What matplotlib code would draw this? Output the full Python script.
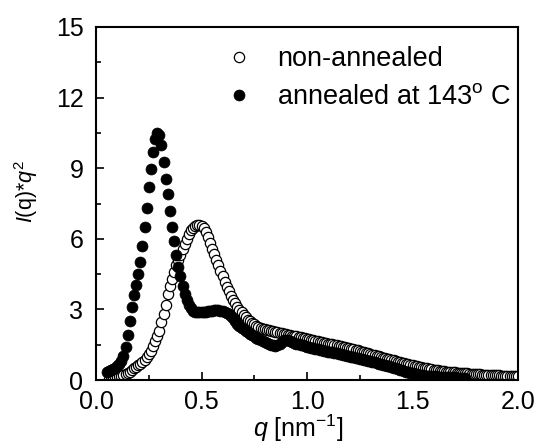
import numpy as np
import matplotlib
matplotlib.use("Agg")
import matplotlib.pyplot as plt

plt.rcParams['font.family'] = ['Liberation Sans', 'DejaVu Sans']
plt.rcParams['mathtext.fontset'] = 'custom'
plt.rcParams['mathtext.rm'] = 'Liberation Sans'
plt.rcParams['mathtext.it'] = 'Liberation Sans:italic'

# ---- data ----
q_step = 0.01
open_q0 = 0.06
open_v = [
    0.03, 0.05, 0.07, 0.09, 0.12, 0.15, 0.18, 0.20, 0.25, 0.30,          # 0.06-0.15
    0.36, 0.43, 0.50, 0.56, 0.62, 0.68, 0.75, 0.85, 0.97, 1.10,          # 0.16-0.25
    1.25, 1.45, 1.65, 1.87, 2.10, 2.45, 2.80, 3.20, 3.65, 4.00,          # 0.26-0.35
    4.30, 4.60, 4.90, 5.10, 5.30, 5.55, 5.80, 6.00, 6.20, 6.38,          # 0.36-0.45
    6.48, 6.55, 6.58, 6.58, 6.55, 6.45, 6.27, 6.06, 5.82, 5.58,          # 0.46-0.55
    5.34, 5.10, 4.87, 4.63, 4.40, 4.18, 3.97, 3.77, 3.58, 3.41,          # 0.56-0.65
    3.26, 3.12, 2.99, 2.87, 2.76, 2.66, 2.57, 2.49, 2.42, 2.36,          # 0.66-0.75
    2.30, 2.25, 2.21, 2.18, 2.15, 2.13, 2.11, 2.09, 2.07, 2.05,          # 0.76-0.85
    2.03, 2.01, 1.99, 1.97, 1.95, 1.93, 1.91, 1.89, 1.87, 1.85,          # 0.86-0.95
    1.83, 1.81, 1.79, 1.77, 1.75,                                        # 0.96-1.00
    1.73, 1.71, 1.69, 1.67, 1.65, 1.63, 1.61, 1.59, 1.57, 1.55,          # 1.01-1.10
    1.53, 1.51, 1.49, 1.47, 1.45, 1.43, 1.41, 1.39, 1.37, 1.35,          # 1.11-1.20
    1.33, 1.31, 1.29, 1.27, 1.24, 1.21, 1.19, 1.16, 1.14, 1.11,          # 1.21-1.30
    1.08, 1.06, 1.03, 1.01, 0.98, 0.95, 0.93, 0.90, 0.88, 0.85,          # 1.31-1.40
    0.83, 0.80, 0.78, 0.76, 0.73, 0.71, 0.69, 0.66, 0.64, 0.62,          # 1.41-1.50
    0.60, 0.58, 0.56, 0.54, 0.52, 0.51, 0.49, 0.47, 0.45, 0.44,          # 1.51-1.60
    0.43, 0.41, 0.40, 0.39, 0.38, 0.36, 0.35, 0.34, 0.33, 0.32,          # 1.61-1.70
    0.31, 0.30, 0.30, 0.29, 0.28, 0.28, 0.27, 0.26, 0.26, 0.25,          # 1.71-1.80
    0.25, 0.24, 0.23, 0.23, 0.22, 0.22, 0.21, 0.21, 0.21, 0.20,          # 1.81-1.90
    0.20, 0.19, 0.19, 0.19, 0.18, 0.18, 0.18, 0.17, 0.17, 0.16,          # 1.91-2.00
]

annealed_q0 = 0.05
annealed_v = [
    0.35, 0.40, 0.44, 0.48, 0.52, 0.58, 0.66, 0.80, 1.02, 1.40,          # 0.05-0.14
    1.90, 2.50, 3.10, 3.60, 4.05, 4.50, 5.00, 5.70, 6.50, 7.30,          # 0.15-0.24
    8.20, 8.95, 9.70, 10.25, 10.50, 10.40, 10.00, 9.25, 8.55, 7.90,      # 0.25-0.34
    7.20, 6.50, 5.90, 5.30, 4.80, 4.40, 4.00, 3.65, 3.40, 3.20,          # 0.35-0.44
    3.05, 2.95, 2.90, 2.88, 2.88, 2.88, 2.88, 2.90, 2.92, 2.94,          # 0.45-0.54
    2.95, 2.96, 2.97, 2.97, 2.95, 2.92, 2.88, 2.85, 2.80, 2.72,          # 0.55-0.64
    2.62, 2.50, 2.40, 2.30, 2.22, 2.15, 2.08, 2.02, 1.96, 1.90,          # 0.65-0.74
    1.85, 1.80, 1.75, 1.70, 1.66, 1.62, 1.58, 1.54, 1.50, 1.47,          # 0.75-0.84
    1.46, 1.47, 1.52, 1.60, 1.68, 1.72, 1.70, 1.66, 1.62, 1.58,          # 0.85-0.94
    1.55, 1.52, 1.49, 1.47, 1.44, 1.42, 1.40, 1.38, 1.35, 1.33,          # 0.95-1.04
    1.31, 1.29, 1.27, 1.25, 1.23, 1.21, 1.19, 1.17, 1.15, 1.13,          # 1.05-1.14
    1.11, 1.09, 1.07, 1.05, 1.03, 1.01, 0.99, 0.97, 0.95, 0.93,          # 1.15-1.24
    0.91, 0.89, 0.87, 0.84, 0.82, 0.80, 0.78, 0.75, 0.73, 0.70,          # 1.25-1.34
    0.68, 0.65, 0.63, 0.60, 0.58, 0.56, 0.53, 0.50, 0.47, 0.44,          # 1.35-1.44
    0.41, 0.38, 0.35, 0.32, 0.30, 0.28, 0.26, 0.24, 0.22, 0.21,          # 1.45-1.54
    0.20, 0.19, 0.18, 0.17, 0.16, 0.15, 0.15, 0.14, 0.14, 0.13,          # 1.55-1.64
    0.13, 0.12, 0.12, 0.12, 0.11, 0.11, 0.10, 0.10, 0.10, 0.09,          # 1.65-1.74
    0.09,                                                                # 1.75
]

labels = ['non-annealed', 'annealed at 143$^{\\rm o}$ C']
x_ticks = [0.0, 0.5, 1.0, 1.5, 2.0]
y_ticks = [0, 3, 6, 9, 12, 15]

open_q = open_q0 + q_step * np.arange(len(open_v))
annealed_q = annealed_q0 + q_step * np.arange(len(annealed_v))

fig = plt.figure(figsize=(5.37, 4.43), dpi=100)
ax = fig.add_axes([96/537, 1-380/443, (518-96)/537, (380-27)/443])

ax.plot(open_q, open_v, linestyle='none', marker='o', markersize=7.4,
        markerfacecolor='white', markeredgecolor='black', markeredgewidth=0.9,
        label=labels[0], zorder=2)
ax.plot(annealed_q, annealed_v, linestyle='none', marker='o', markersize=7.9,
        markerfacecolor='black', markeredgecolor='black', markeredgewidth=0.5,
        label=labels[1], zorder=3)

ax.set_xlim(0, 2.0)
ax.set_ylim(0, 15)
ax.set_xticks(x_ticks)
ax.set_xticklabels(['%.1f' % t for t in x_ticks])
ax.set_yticks(y_ticks)
ax.set_xticks([0.25, 0.75, 1.25, 1.75], minor=True)
ax.set_yticks([1.5, 4.5, 7.5, 10.5, 13.5], minor=True)
ax.tick_params(which='both', direction='in', top=False, right=False,
               labelsize=18, width=1.2)
ax.tick_params(axis='x', which='major', pad=7)
ax.tick_params(axis='y', which='major', pad=9)
ax.tick_params(which='major', length=6)
ax.tick_params(which='minor', length=3.8)
for s in ax.spines.values():
    s.set_linewidth(1.5)

ax.set_xlabel('$q$ [nm$^{-1}$]', fontsize=18)
ax.xaxis.set_label_coords(0.48, -0.093, transform=ax.transAxes)
ax.xaxis.label.set_va('top')
ax.set_ylabel('$I$(q)*$q^2$', fontsize=15.5)
ax.yaxis.set_label_coords(-0.133, 0.535, transform=ax.transAxes)

leg = ax.legend(loc='upper right', frameon=False, fontsize=19.5,
                handletextpad=0.74, borderaxespad=0.05, labelspacing=0.45,
                handlelength=1.3, bbox_to_anchor=(1.012, 0.98))

fig.savefig('out.png', dpi=100)
